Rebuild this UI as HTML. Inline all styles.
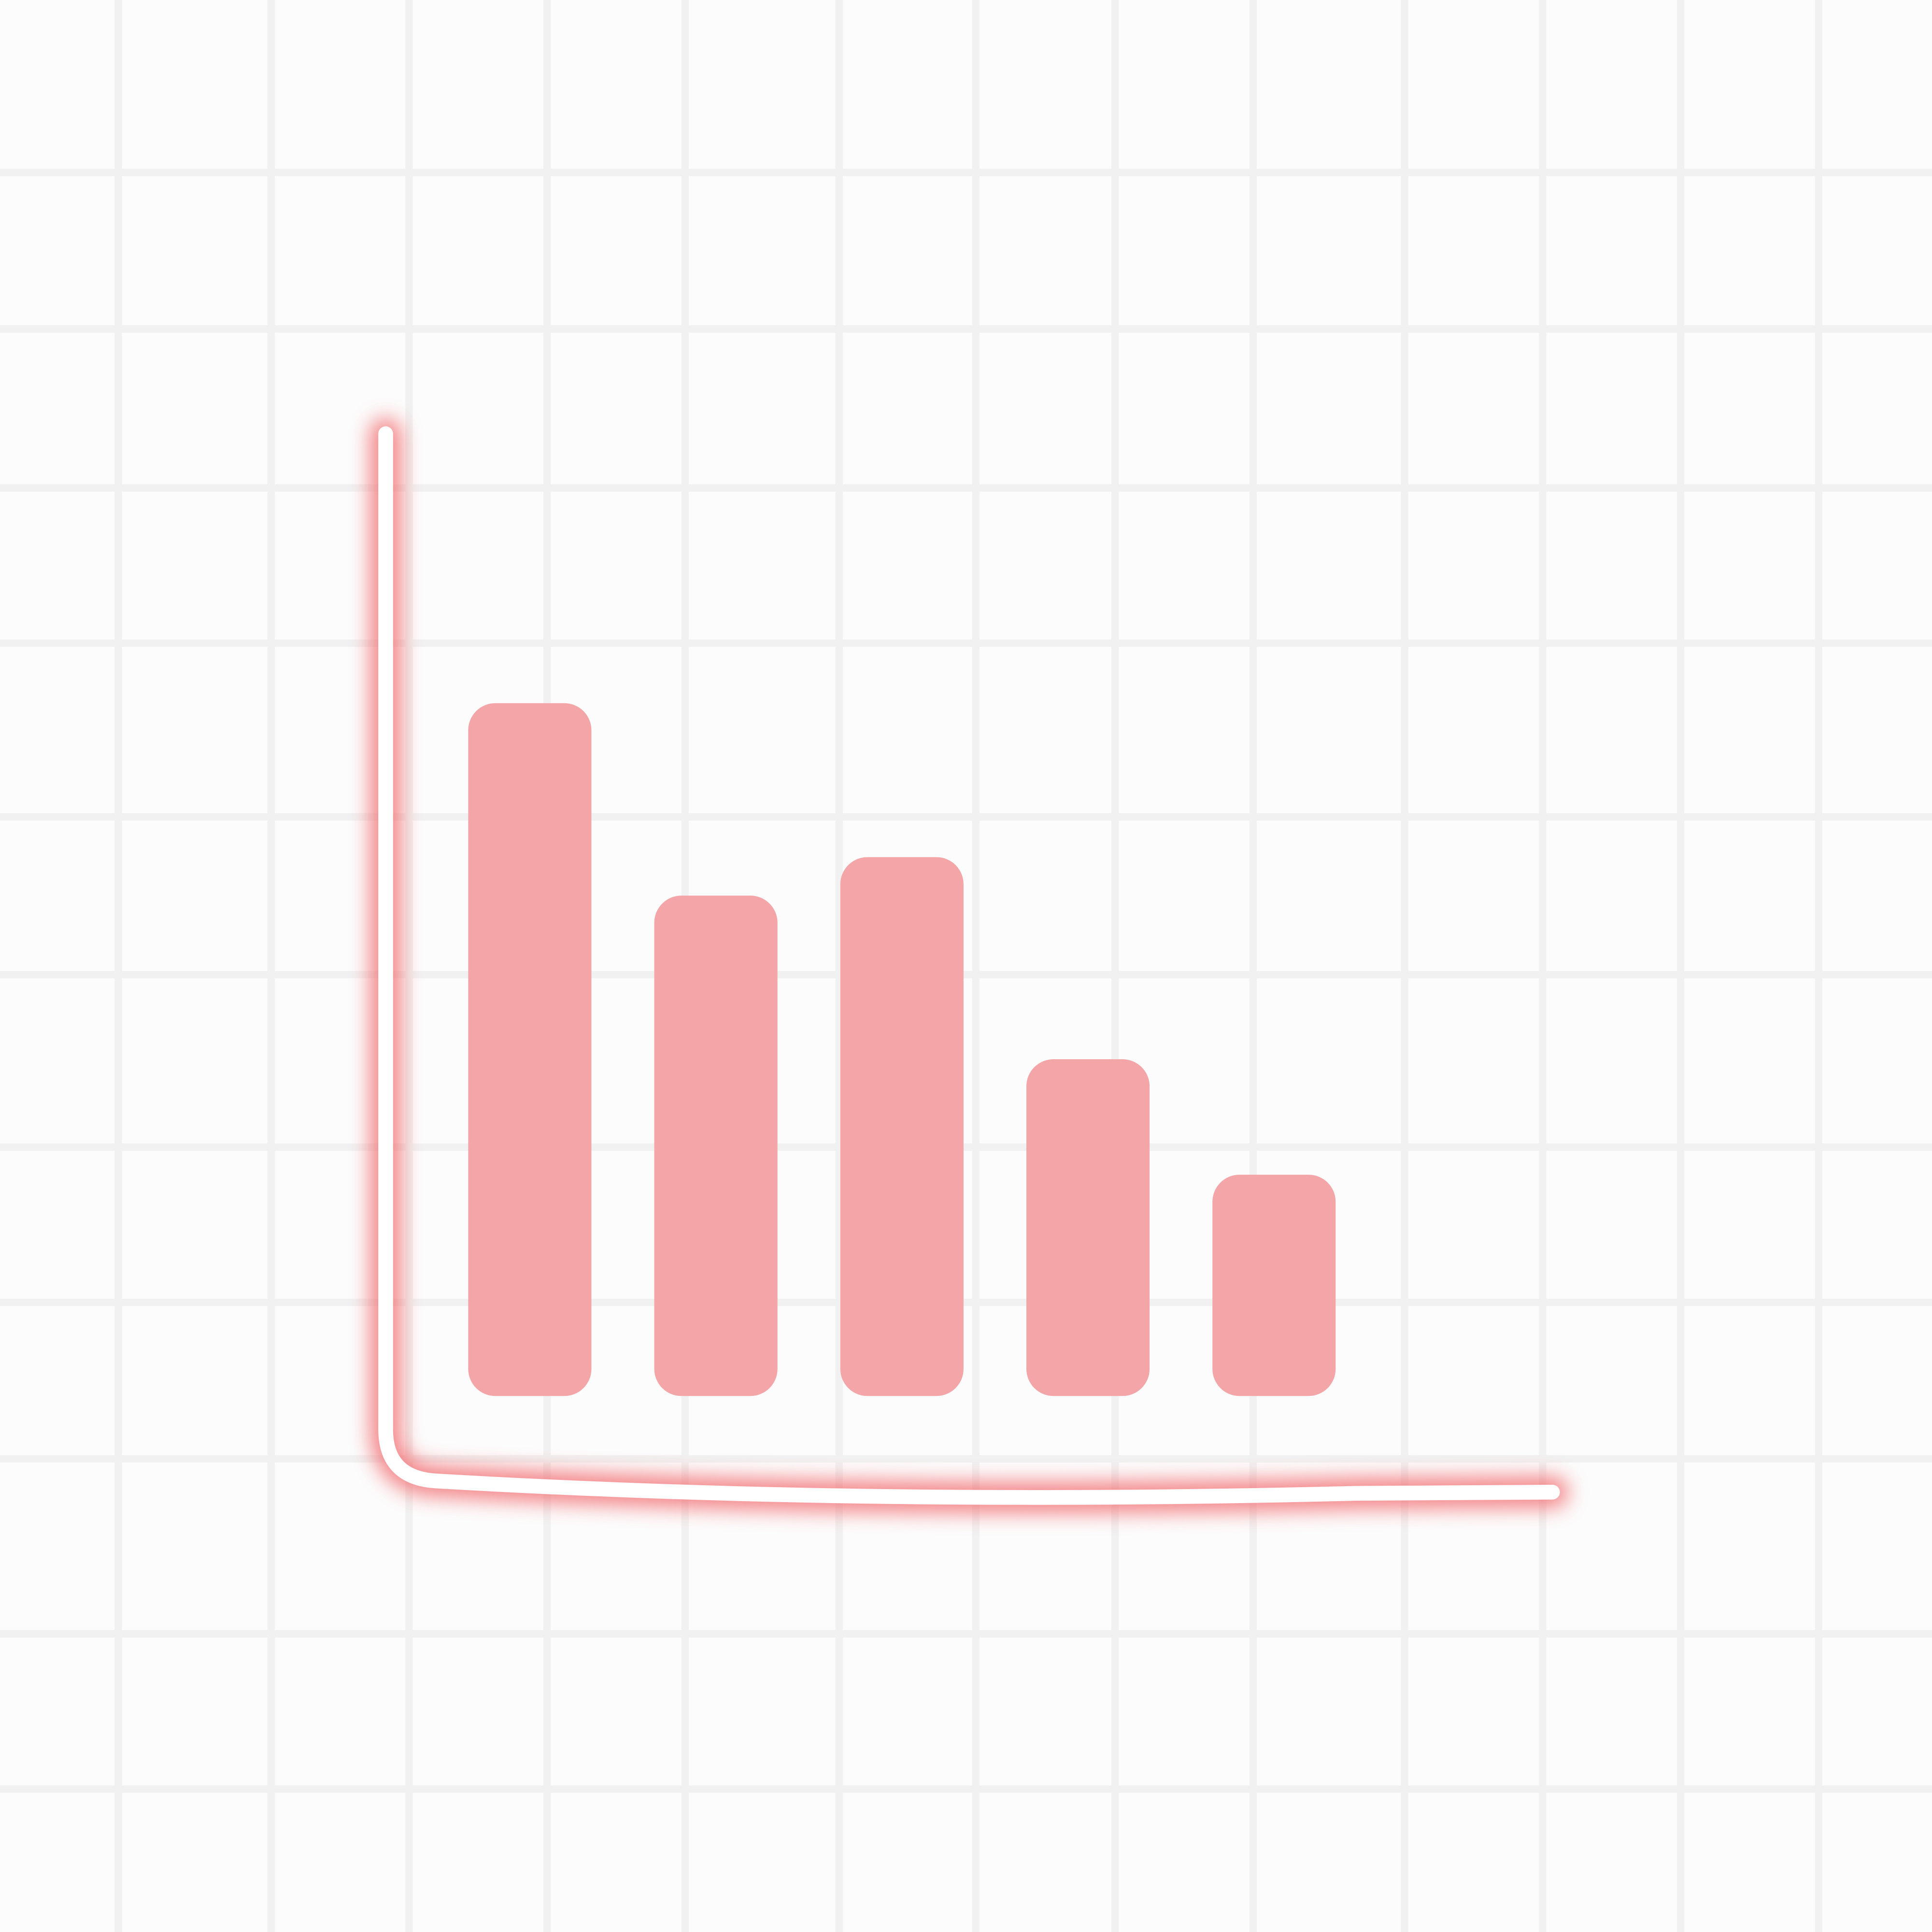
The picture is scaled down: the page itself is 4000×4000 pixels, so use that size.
<!DOCTYPE html>
<html>
<head>
<meta charset="utf-8">
<style>
html,body{margin:0;padding:0;background:#fcfcfc;}
svg{display:block;}
</style>
</head>
<body>
<svg id="chart" width="4000" height="4000" viewBox="0 0 1568 1568" xmlns="http://www.w3.org/2000/svg">
  <defs>
    <filter id="glow" x="-20%" y="-20%" width="140%" height="140%">
      <feGaussianBlur stdDeviation="8"/>
    </filter>
  </defs>
  <rect x="0" y="0" width="1568" height="1568" fill="#fcfcfc"/>
  <g id="grid"></g>
  <g id="bars"></g>
  <g>
    <path d="M313,352 L313,1160 Q313,1200 355,1202 Q700,1222 1100,1212 L1260,1211" fill="none" stroke="#f26a6e" stroke-width="26" stroke-linecap="round" filter="url(#glow)" opacity="0.8"/>
    <path d="M313,352 L313,1160 Q313,1200 355,1202 Q700,1222 1100,1212 L1260,1211" fill="none" stroke="#ffffff" stroke-width="12" stroke-linecap="round"/>
  </g>
</svg>
<script>
const categories = ["A", "B", "C", "D", "E"];
const values = [72, 52, 56, 35, 23];
const gridX = [96, 220, 332, 444, 556, 681, 792, 905, 1017, 1140, 1252, 1364, 1476];
const gridY = [140, 267, 396, 522, 663, 791, 931, 1057, 1184, 1326, 1452];

const NS = "http://www.w3.org/2000/svg";
const yBase = 1133, yTop = 352, vMax = 100;
function yScale(v){ return yBase - (v / vMax) * (yBase - yTop); }
const xStart = 380, xStep = 151, barW = 100;
function xScale(i){ return xStart + i * xStep; }

const grid = document.getElementById('grid');
gridX.forEach(function(x){
  const l = document.createElementNS(NS, 'rect');
  
  
  l.setAttribute('x', x - 3); l.setAttribute('y', 0);
  l.setAttribute('width', 6); l.setAttribute('height', 1568);
  l.setAttribute('fill', '#f1f1f1');
  grid.appendChild(l);
});
gridY.forEach(function(y){
  const l = document.createElementNS(NS, 'rect');
  
  
  l.setAttribute('x', 0); l.setAttribute('y', y - 3);
  l.setAttribute('width', 1568); l.setAttribute('height', 6);
  l.setAttribute('fill', '#f1f1f1');
  grid.appendChild(l);
});

const bars = document.getElementById('bars');
values.forEach(function(v, i){
  const x = xScale(i), y = yScale(v);
  const r = document.createElementNS(NS, 'rect');
  
  
  r.setAttribute('x', x); r.setAttribute('y', y);
  r.setAttribute('width', barW); r.setAttribute('height', yBase - y);
  r.setAttribute('rx', 22); r.setAttribute('ry', 22);
  r.setAttribute('fill', '#f4a5a7');
  bars.appendChild(r);
});
</script>
</body>
</html>
